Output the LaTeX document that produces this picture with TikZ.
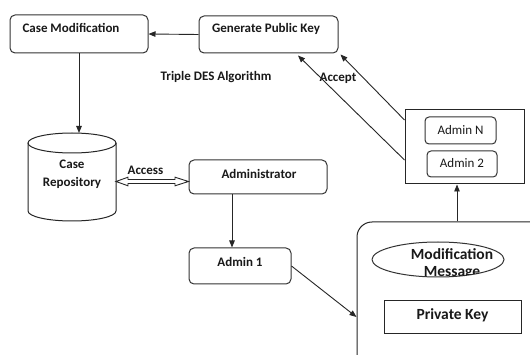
\documentclass[tikz,border=0pt]{standalone}
\usepackage{fontspec}
\setmainfont{Carlito}
\usetikzlibrary{arrows.meta,shapes.geometric,calc}
\begin{document}
\begin{tikzpicture}[x=1pt,y=-1pt,
  box/.style={draw=black!80,line width=1pt,rounded corners=5pt,inner sep=0pt},
  sharpbox/.style={draw=black!85,line width=1pt,inner sep=0pt},
  lbl/.style={font=\fontsize{13}{15}\selectfont\bfseries,inner sep=0pt,text=black!90},
  biglbl/.style={font=\fontsize{15.5}{17}\selectfont\bfseries,inner sep=0pt,text=black!90},
  smlbl/.style={font=\fontsize{13}{15}\selectfont,inner sep=0pt,text=black!90},
  arr/.style={line width=0.9pt,draw=black!85,-{Triangle[length=7pt,width=5.5pt]}}]
\useasboundingbox (0,0) rectangle (530,355);
\fill[white] (0,0) rectangle (530,355);

% top boxes
\node[box,minimum width=138pt,minimum height=38pt] (cm) at (79,34) {};
\node[lbl] (cmt) at (71,28) {Case Modification};
\node[box,minimum width=139pt,minimum height=37pt] (gpk) at (268.5,34.5) {};
\node[lbl] (gpkt) at (266,29) {Generate Public Key};
\node[lbl] (tdes) at (216,77) {Triple DES Algorithm};
\node[lbl] (acc) at (338,78) {Accept};

% cylinder
\draw[line width=1pt,draw=black!85,fill=white] (28,143) -- (28,211) arc[start angle=180,end angle=0,x radius=44,y radius=10] -- (116,143);
\draw[line width=1pt,draw=black!85] (72,143) ellipse[x radius=44,y radius=10];
\node[lbl,align=center,font=\fontsize{13}{18}\selectfont\bfseries] (repo) at (72,174) {Case\\Repository};
\coordinate (cylT) at (79,133);
\coordinate (cylR) at (116,181.5);

% administrator
\node[box,minimum width=138pt,minimum height=34pt] (adm) at (258,177) {};
\node[lbl] (admt) at (259,174) {Administrator};
\node[box,minimum width=102pt,minimum height=36pt] (a1) at (240,266) {};
\node[lbl] (a1t) at (240,262) {Admin 1};
\node[lbl] (accs) at (145.5,170) {Access};

% hollow double arrow
\draw[line width=0.9pt,draw=black!85,fill=white]
  (cylR) -- ++(12,-4.3) -- ++(0,2.3) -- (175,179.5) -- ++(0,-2.3) -- (adm.west |- cylR)
  -- (175,185.8) -- ++(0,-2.3) -- (128,183.5) -- ++(0,2.3) -- cycle;

% big rounded container (clipped)
\begin{scope}
\clip (0,0) rectangle (530,355);
\node[draw=black!85,line width=1pt,rounded corners=15pt,minimum width=200pt,minimum height=150pt,inner sep=0pt] (big) at (457,297) {};
\end{scope}
\coordinate (msg) at (438,259.5);
\draw[line width=1pt,draw=black!80] (372,259.5) arc[start angle=180,end angle=-180,x radius=66,y radius=17.5];
\begin{scope}
\clip (372,259.5) arc[start angle=180,end angle=-180,x radius=65.5,y radius=17];
\node[biglbl,align=center,font=\fontsize{15.5}{17}\selectfont\bfseries] (msgt) at (452,263.5) {Modification\\Message};
\end{scope}
\node[sharpbox,minimum width=137pt,minimum height=32pt] (pk) at (452.5,317) {};
\node[biglbl] (pkt) at (452.5,315) {Private Key};

% admin group
\node[sharpbox,minimum width=119pt,minimum height=74pt] (grp) at (464.5,147) {};
\node[box,rounded corners=4pt,minimum width=71pt,minimum height=27pt] (an) at (460.5,130.5) {};
\node[smlbl] (ant) at (460.5,130) {Admin N};
\node[box,rounded corners=4pt,minimum width=70pt,minimum height=26pt] (a2) at (462,164) {};
\node[smlbl] (a2t) at (462,163.5) {Admin 2};

% connectors
\draw[arr] (gpk.west) -- (cm.east);
\draw[arr] (cm.south) -- (cylT);
\draw[arr] ([xshift=-26pt]adm.south) -- ([xshift=-8pt]a1.north);
\draw[arr] (a1.east) -- ([yshift=-20pt]big.west);
\draw[arr] (big.north) -- ([xshift=-7.5pt]grp.south);
\draw[arr] ([yshift=27pt]grp.west) -- ([xshift=2pt,yshift=-1pt]gpk.south east);
\draw[arr] ([yshift=-13pt]grp.west) -- ([xshift=29.5pt,yshift=-2pt]gpk.south);
\end{tikzpicture}
\end{document}
